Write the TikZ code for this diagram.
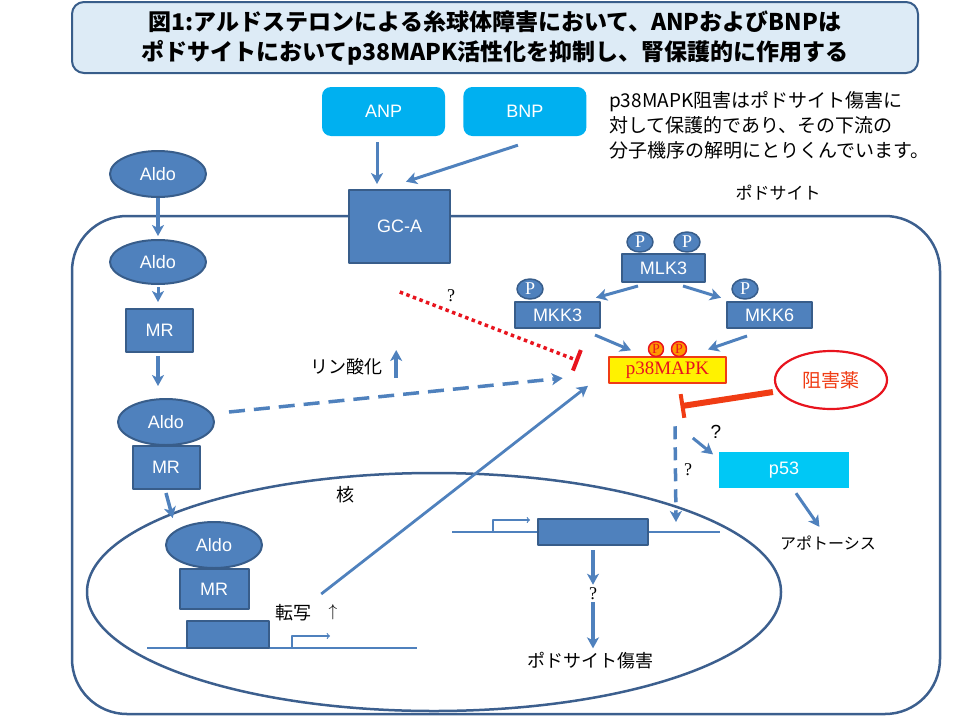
\documentclass[tikz,border=0pt]{standalone}
\usepackage{fontspec}
\setmainfont{Liberation Sans}
\newfontfamily\jp{Noto Sans CJK JP}
\newfontfamily\rmserif{Liberation Serif}
\usetikzlibrary{shapes,shapes.geometric,arrows,arrows.meta,calc,positioning}
\definecolor{bfill}{HTML}{4F81BD}
\definecolor{bline}{HTML}{385D8A}
\definecolor{cellline}{HTML}{3C5F8E}
\definecolor{skyb}{HTML}{00B0F0}
\definecolor{skyc}{HTML}{00C8F5}
\definecolor{titlebg}{HTML}{DDEBF6}
\definecolor{inhred}{HTML}{F03C14}
\definecolor{dotred}{HTML}{E8141E}
\tikzset{blk/.style={draw=bline, fill=bfill, line width=2pt, text=white, inner sep=0pt, font=\fontsize{18}{18}\selectfont}}
\tikzset{memb/.style={draw=cellline, line width=2.5pt}}
\tikzstyle{box}=[blk, rectangle]
\tikzstyle{aldo}=[blk, ellipse, minimum width=96pt, minimum height=46pt]
\tikzstyle{pcirc}=[blk, ellipse, line width=1.5pt, minimum width=26pt, minimum height=20pt, font=\rmserif\fontsize{18}{18}\selectfont]
\tikzstyle{sky}=[rectangle, rounded corners=9pt, fill=skyb, text=white, minimum width=123pt, minimum height=49pt, font=\fontsize{18}{18}\selectfont]
\tikzstyle{arr}=[->, draw=bfill, line width=3pt, shorten >=1pt]
\tikzstyle{lab}=[font=\jp\fontsize{18}{18}\selectfont, inner sep=2pt]
\tikzstyle{qm}=[font=\rmserif\fontsize{18}{18}\selectfont, inner sep=2pt]
\tikzstyle{dna}=[draw=bfill, line width=1.2pt]

\begin{document}
\begin{tikzpicture}[x=1pt, y=-1pt, >={Stealth[length=11pt, width=12pt, inset=3pt]}, line join=round]
\useasboundingbox (0,0) rectangle (960,720);
% cell and nucleus
\draw[memb, rounded corners=55pt] (72,216) rectangle (940,714);
\draw[memb] (434,592) ellipse [x radius=347pt, y radius=119pt];

% title
\node[draw=bline, fill=titlebg, line width=2pt, rounded corners=12pt, minimum width=846pt, minimum height=71pt, align=center, font=\jp\bfseries\fontsize{23}{30}\selectfont] (title) at (495,37.5) {図1:アルドステロンによる糸球体障害において、ANPおよびBNPは\\ポドサイトにおいてp38MAPK活性化を抑制し、腎保護的に作用する};

\node[anchor=north west, align=left, font=\jp\fontsize{19}{25}\selectfont, inner sep=0pt] (note) at (609,91) {p38MAPK阻害はポドサイト傷害に\\対して保護的であり、その下流の\\分子機序の解明にとりくんでいます。};
\node[lab, font=\jp\fontsize{17}{17}\selectfont] (pod) at (778,193) {ポドサイト};

% receptors
\node[sky] (ANP) at (383.5,111.5) {ANP};
\node[sky, right=18pt of ANP] (BNP) {BNP};
\node[box, minimum width=101pt, minimum height=73pt] (GCA) at (399.5,226.5) {GC-A};

% aldosterone path
\node[aldo] (A1) at (158,174) {Aldo};
\node[aldo, minimum height=44pt] (A2) at (158,262) {Aldo};
\node[box, minimum width=67pt, minimum height=43pt] (MR1) at (159.5,330.5) {MR};
\node[aldo] (A3) at (166,422) {Aldo};
\node[box, minimum width=67pt, minimum height=43pt, below=-1pt of A3] (MR2) {MR};
\node[aldo] (A4) at (214,545) {Aldo};
\node[box, minimum width=69pt, minimum height=40pt, below=-1pt of A4] (MR3) {MR};
\coordinate (G1) at (228,634.5);
\coordinate (G2) at (593,532);

% kinases
\node[box, minimum width=83pt, minimum height=28pt] (MLK3) at (663.5,268) {MLK3};
\node[box, minimum width=85pt, minimum height=26pt] (MKK3) at (557.5,315) {MKK3};
\node[box, minimum width=85pt, minimum height=26pt] (MKK6) at (769.5,315) {MKK6};
\node[pcirc] (P1) at (640,242) {P};
\node[pcirc] (P2) at (687,242) {P};
\node[pcirc] (P3) at (530,289) {P};
\node[pcirc] (P4) at (745,289) {P};
\node[rectangle, draw=inhred, fill=yellow, line width=2.5pt, minimum width=117pt, minimum height=26pt, inner sep=0pt, text=dotred, font=\rmserif\fontsize{19}{19}\selectfont] (p38) at (667.5,370) {p38MAPK};
\node[circle, draw=dotred, fill=orange!80!yellow, line width=1.5pt, minimum size=15pt, inner sep=0pt, text=dotred, font=\rmserif\fontsize{14}{14}\selectfont] (P5) at (656,349) {P};
\node[circle, draw=dotred, fill=orange!80!yellow, line width=1.5pt, minimum size=15pt, inner sep=0pt, text=dotred, font=\rmserif\fontsize{14}{14}\selectfont] (P6) at (679,349) {P};
\node[ellipse, draw=dotred, fill=white, line width=2.2pt, minimum width=112pt, minimum height=58pt, inner sep=0pt, text=inhred, font=\jp\fontsize{19}{19}\selectfont] (Inh) at (831,380) {阻害薬};
\node[rectangle, fill=skyc, text=white, minimum width=130pt, minimum height=36pt, inner sep=0pt, font=\fontsize{18}{18}\selectfont] (p53) at (784,470) {p53};

% labels
\node[lab] (kaku) at (345,495) {核};
\node[lab] (rin) at (346,367) {リン酸化};
\node[lab] (tensha) at (293,613) {転写};
\node[lab, font=\fontsize{18}{18}\selectfont] (up) at (333,612) {$\uparrow$};
\node[lab, font=\jp\fontsize{16}{16}\selectfont] (apop) at (828,543) {アポトーシス};
\node[lab] (dmg) at (590,661) {ポドサイト傷害};
\node[qm] (q1) at (451,296) {?};
\node[qm, font=\fontsize{19}{19}\selectfont] (q2) at (716,432) {?};
\node[qm] (q3) at (688,470) {?};
\node[qm] (q4) at (593,594) {?};

% genes
\draw[dna] (147,648) -- (417,648);
\draw[dna] (452,532) -- (720,532);
\draw[dna, -to] (292,648) |- (330,636);
\draw[dna, -to] (493,532) |- (530,520);
\node[box, minimum width=82pt, minimum height=27pt] (gene1) at (G1) {};
\node[box, minimum width=110pt, minimum height=26pt] (gene2) at (G2) {};

% arrows
\draw[arr] ($(ANP.south)+(-6.5,6)$) -- ($(GCA.north)+(-22.5,-4)$);
\draw[arr] ($(BNP.south)+(-7,9)$) -- ($(GCA.north)+(5.5,-7)$);
\draw[arr, line width=4pt] (A1.south) -- ($(A2.north)+(0,-2)$);
\draw[arr] ($(A2.south)+(0,2)$) -- ($(MR1.north)+(-1.5,-5)$);
\draw[arr, line width=4pt] ($(MR1.south)+(-1.5,3)$) -- ($(MR1.south)+(-1.5,34)$);
\draw[arr, line width=3.5pt] ($(MR2.south)+(0,3)$) -- ($(A4.north)+(-41,-2)$);
\draw[arr] ($(MLK3.south)+(-25.5,3)$) -- ($(MKK3.north)+(37.5,-3)$);
\draw[arr] ($(MLK3.south)+(19.5,3)$) -- ($(MKK6.north)+(-47.5,-3)$);
\draw[arr] ($(MKK3.south)+(37.5,6)$) -- ($(p38.north)+(-35.5,-5)$);
\draw[arr] ($(MKK6.south)+(-22.5,7)$) -- ($(p38.north)+(39.5,-6)$);
\draw[arr, line width=2.8pt] ($(tensha.east)+(8,-19)$) -- ($(p38.south west)+(-19,1)$);
\draw[arr, dash pattern=on 16pt off 9pt, line width=3.5pt] ($(A3.east)+(14,-10)$) -- ($(p38.west)+(-44,8)$);
\draw[dotred, line width=3.5pt, dash pattern=on 3.5pt off 3.5pt, -{Bar[width=22pt, line width=4pt]}] ($(q1.west)+(-45,-4)$) -- ($(p38.west)+(-29,-9)$);
\draw[inhred, line width=6pt, -{Bar[width=24pt, line width=4pt]}] ($(Inh.west)+(-1,12)$) -- ($(p38.south)+(13,22)$);
\draw[arr, line width=4.5pt] ($(rin.east)+(12,11)$) -- ($(rin.east)+(12,-18)$);
\draw[arr, line width=3.5pt, dash pattern=on 13pt off 8pt] ($(p38.south)+(7.5,42)$) -- ($(gene2.north east)+(27,5)$);
\draw[arr] ($(p53.west)+(-26,-32)$) -- ($(p53.west)+(-5,-15)$);
\draw[arr] ($(p53.south)+(12,5)$) -- ($(apop.north)+(-8,-6)$);
\draw[arr, line width=3.5pt] ($(gene2.south)+(0,4)$) -- (q4.north);
\draw[arr, line width=3.5pt] (q4.south) -- ($(dmg.north)+(3,-1)$);
\end{tikzpicture}
\end{document}
